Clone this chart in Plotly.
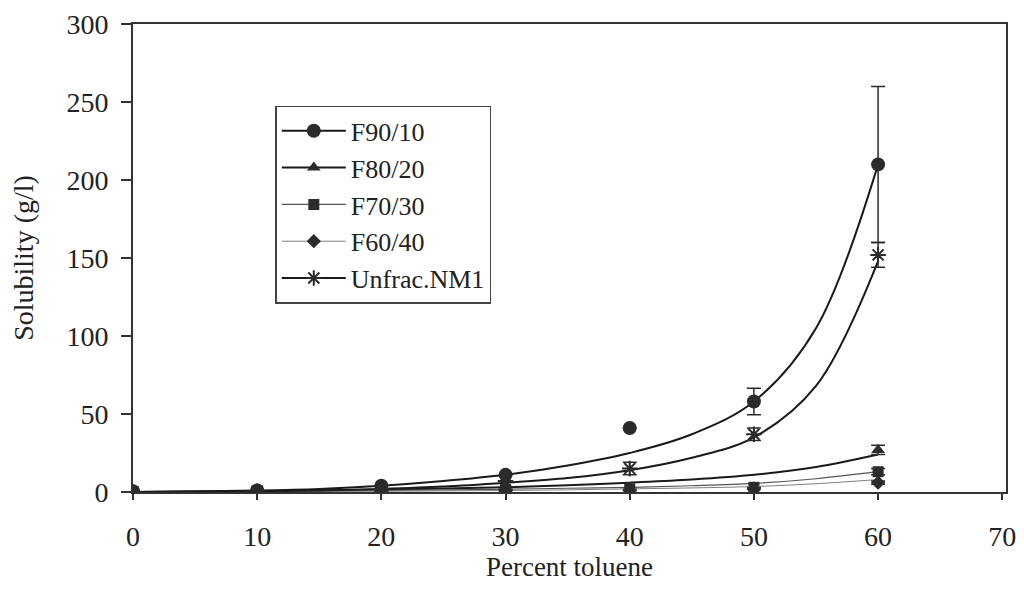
import plotly.graph_objects as go

# ---- data ----
toluene = [0, 10, 20, 30, 40, 50, 60]
trend_x = [0, 5, 10, 15, 20, 25, 30, 35, 40, 45, 50, 55, 60]

series_names = ["F90/10", "F80/20", "F70/30", "F60/40", "Unfrac.NM1"]

f90_10 = [0.5, 1.0, 4.0, 11.0, 41.0, 58.0, 210.0]
f90_10_err = [0, 0, 0, 0, 0, 8.5, 50.0]
f90_10_trend = [0.0, 0.5, 1.0, 2.0, 4.0, 7.0, 11.0, 17.0, 25.0, 37.0, 58.0, 105.0, 210.0]

f80_20 = [0.0, 0.5, 1.5, 2.0, 2.5, 3.0, 27.0]
f80_20_err = [0, 0, 0, 0, 0, 0, 3.0]
f80_20_trend = [0.0, 0.2, 0.5, 1.0, 1.5, 2.2, 3.0, 4.3, 6.0, 8.0, 11.0, 16.0, 24.0]

f70_30 = [0.0, 0.3, 1.0, 1.5, 2.0, 3.0, 13.0]
f70_30_err = [0, 0, 0, 0, 0, 0, 2.0]
f70_30_trend = [0.0, 0.1, 0.3, 0.6, 1.0, 1.4, 1.8, 2.4, 3.0, 4.0, 5.5, 8.5, 13.0]

f60_40 = [0.0, 0.2, 0.5, 1.0, 1.0, 2.0, 6.0]
f60_40_err = [0, 0, 0, 0, 0, 0, 1.0]
f60_40_trend = [0.0, 0.1, 0.2, 0.3, 0.5, 0.7, 1.0, 1.4, 2.0, 2.6, 3.5, 5.3, 8.0]

unfrac = [0.0, 0.5, 2.0, 7.0, 15.0, 37.0, 152.0]
unfrac_err = [0, 0, 0, 0, 4.0, 4.0, 8.0]
unfrac_trend = [0.0, 0.2, 0.5, 1.0, 2.0, 3.5, 6.0, 9.0, 14.0, 22.0, 35.0, 68.0, 148.0]

x_ticks = [0, 10, 20, 30, 40, 50, 60, 70]
y_ticks = [0, 50, 100, 150, 200, 250, 300]

# ---- styles ----
FONT = "Liberation Serif"
styles = [
    dict(symbol="circle", size=14, color="#2b2b2b", lw=2.0, lc="#1a1a1a"),
    dict(symbol="triangle-up", size=12, color="#2b2b2b", lw=2.0, lc="#1a1a1a"),
    dict(symbol="square", size=11, color="#2b2b2b", lw=1.2, lc="#555555"),
    dict(symbol="diamond", size=11, color="#2b2b2b", lw=1.0, lc="#808080"),
    dict(symbol="asterisk-open", size=13, color="#2b2b2b", lw=2.0, lc="#1a1a1a"),
]
values = [f90_10, f80_20, f70_30, f60_40, unfrac]
errors = [f90_10_err, f80_20_err, f70_30_err, f60_40_err, unfrac_err]
trends = [f90_10_trend, f80_20_trend, f70_30_trend, f60_40_trend, unfrac_trend]

fig = go.Figure()

for name, vals, errs, trend, st in zip(series_names, values, errors, trends, styles):
    fig.add_trace(go.Scatter(
        x=trend_x, y=trend, mode="lines",
        line=dict(color=st["lc"], width=st["lw"], shape="spline", smoothing=1.0),
        showlegend=False, hoverinfo="skip"))
    marker_line = dict(width=2, color=st["color"]) if st["symbol"].endswith("open") else dict(width=0)
    fig.add_trace(go.Scatter(
        x=toluene, y=vals, mode="markers",
        marker=dict(symbol=st["symbol"], size=st["size"], color=st["color"], line=marker_line),
        error_y=dict(type="data", array=errs, visible=True, color="#2b2b2b", thickness=1.5, width=7),
        showlegend=False))
    fig.add_trace(go.Scatter(
        x=[None], y=[None], mode="lines+markers", name=name,
        line=dict(color=st["lc"], width=st["lw"]),
        marker=dict(symbol=st["symbol"], size=st["size"], color=st["color"], line=marker_line)))

fig.update_layout(
    width=1008, height=574,
    margin=dict(l=125, r=10, t=16, b=90),
    paper_bgcolor="white", plot_bgcolor="white",
    font=dict(family=FONT, size=28, color="#222222"),
    showlegend=True,
    legend=dict(
        x=0.163, y=0.825, xanchor="left", yanchor="top",
        bgcolor="white", bordercolor="#444444", borderwidth=1.5,
        font=dict(family=FONT, size=26, color="#222222"),
        itemwidth=64, tracegroupgap=0,
    ),
    xaxis=dict(
        range=[0, 70.3], tickvals=x_ticks, ticktext=[str(v) for v in x_ticks],
        showline=True, linecolor="#333333", linewidth=2, mirror=True,
        ticks="outside", ticklen=6, tickcolor="#333333", tickwidth=1.5,
        showgrid=False, zeroline=False, automargin=False, ticklabelstandoff=12,
        ticklabeloverflow="allow",
        title=dict(text="Percent toluene", font=dict(family=FONT, size=27), standoff=11),
        tickfont=dict(family=FONT, size=28),
    ),
    yaxis=dict(
        range=[0, 300], tickvals=y_ticks, ticktext=[str(v) for v in y_ticks],
        showline=True, linecolor="#333333", linewidth=2, mirror=True,
        ticks="outside", ticklen=10, tickcolor="#333333", tickwidth=1.5,
        showgrid=False, zeroline=False, automargin=False, ticklabelstandoff=7,
        title=dict(text="Solubility (g/l)", font=dict(family=FONT, size=28), standoff=32),
        tickfont=dict(family=FONT, size=28),
    ),
)

fig.write_html("out.html")
